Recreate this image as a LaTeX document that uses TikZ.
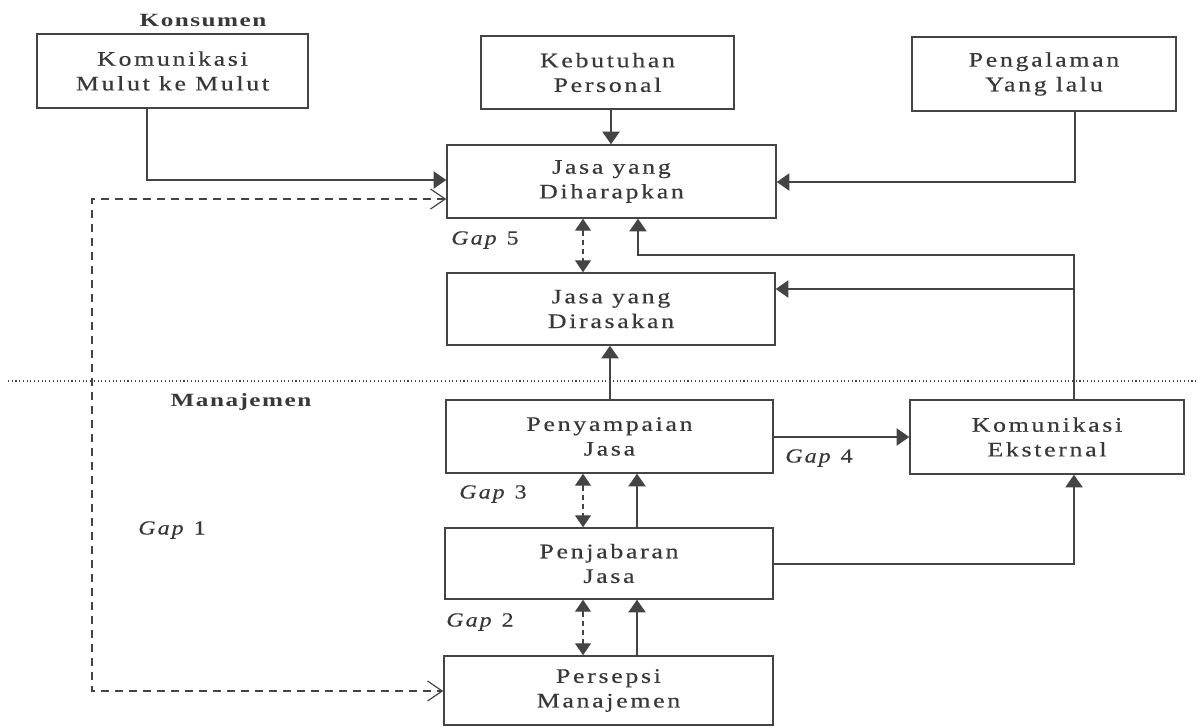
\documentclass[tikz,border=0pt]{standalone}
\usepackage{fontspec}
\setmainfont{Liberation Serif}
\newfontfamily\boxfont[FakeStretch=1.25, LetterSpace=13, FakeBold=0.4]{Liberation Serif}
\newfontfamily\headfont[FakeStretch=1.35, LetterSpace=8]{Liberation Serif}
\newfontfamily\gapfont[FakeStretch=1.2, LetterSpace=10, FakeBold=0.3]{Liberation Serif}
\usetikzlibrary{arrows.meta}
\definecolor{ink}{HTML}{444444}
\definecolor{txt}{HTML}{383838}
\tikzset{
  bx/.style 2 args={draw=ink, line width=1.1pt, rectangle, align=center,
    minimum width=#1*0.75pt, minimum height=#2*0.75pt, inner sep=0pt,
    text=txt, font=\boxfont\fontsize{15.5}{18.5}\selectfont},
  arr/.style={draw=ink, line width=1pt, -{Triangle[length=9.5pt,width=13pt]}},
  gaparr/.style={draw=ink, line width=1pt, dash pattern=on 4pt off 3pt,
    {Triangle[length=9pt,width=12pt]}-{Triangle[length=9pt,width=12pt]}},
  openarr/.style={draw=ink, line width=0.9pt, dash pattern=on 6pt off 4.5pt,
    {Straight Barb[length=11pt,width=15pt]}-{Straight Barb[length=11pt,width=15pt]}},
  head/.style={text=txt, font=\headfont\bfseries\fontsize{14}{16}\selectfont},
  gaplbl/.style={text=txt, font=\gapfont\fontsize{15}{17}\selectfont},
}
\begin{document}
\begin{tikzpicture}[x=0.75pt, y=-0.75pt]
\useasboundingbox (0,0) rectangle (1198,726);

% labels
\node[head] (konsumen) at (203,20) {Konsumen};
\node[head] (manajemen) at (241,402) {Manajemen};

% boxes
\node[bx={271}{74}] (kmm) at (172.5,71) {Komunikasi\\Mulut ke Mulut};
\node[bx={253}{73}] (keb) at (607.5,72.5) {Kebutuhan\\Personal};
\node[bx={264}{74}] (peng) at (1044,74) {Pengalaman\\Yang lalu};
\node[bx={329}{73}] (har) at (611.5,181.5) {Jasa yang\\Diharapkan};
\node[bx={328}{72}] (ras) at (611,309) {Jasa yang\\Dirasakan};
\node[bx={327}{73}] (pny) at (609.5,436.5) {Penyampaian\\Jasa};
\node[bx={328}{71}] (pjb) at (609,563.5) {Penjabaran\\Jasa};
\node[bx={329}{69}] (prs) at (608.5,690.5) {Persepsi\\Manajemen};
\node[bx={274}{74}] (eks) at (1047,437) {Komunikasi\\Eksternal};

% gap labels
\node[gaplbl] (g5) at (485,240) {\textit{Gap} 5};
\node[gaplbl] (g4) at (819,458) {\textit{Gap} 4};
\node[gaplbl] (g3) at (493,494) {\textit{Gap} 3};
\node[gaplbl] (g2) at (480,622) {\textit{Gap} 2};
\node[gaplbl] (g1) at (172,530) {\textit{Gap} 1};

% dotted divider
\coordinate (dl) at (8,381);
\coordinate (dr) at (1198,381);
\draw[ink, line width=0.8pt, dotted] (dl) -- (dr);

% consumer side connectors
\draw[arr] (kmm.south -| 147,0) |- (har.west |- 0,180);
\draw[arr] (keb.south -| 611,0) -- (har.north -| 611,0);
\draw[arr] (peng.south -| 1075,0) |- (har.east |- 0,182);

% gap 1
\draw[openarr] (har.west |- 0,199) -| (92,445) |- (prs.west |- 0,691);

% gap 5
\draw[gaparr] (har.south -| 583,0) -- (ras.north -| 583,0);

% external communication to expectations & perceptions
\draw[arr] (eks.north -| 1074,0) |- (638,255) -- (har.south -| 638,0);
\coordinate (j) at (1074,289);
\draw[arr] (j) -- (ras.east |- j);

% delivery to perceived
\draw[arr] (pny.north -| 610,0) -- (ras.south -| 610,0);

% gap 4
\draw[arr] (pny.east |- 0,437) -- (eks.west |- 0,437);

% gap 3
\draw[gaparr] (pny.south -| 583,0) -- (pjb.north -| 583,0);
\draw[arr] (pjb.north -| 637,0) -- (pny.south -| 637,0);

% gap 2
\draw[gaparr] (pjb.south -| 583,0) -- (prs.north -| 583,0);
\draw[arr] (prs.north -| 637,0) -- (pjb.south -| 637,0);

% specifications to external communication
\draw[arr] (pjb.east |- 0,564) -| (eks.south -| 1074,0);
\end{tikzpicture}
\end{document}
